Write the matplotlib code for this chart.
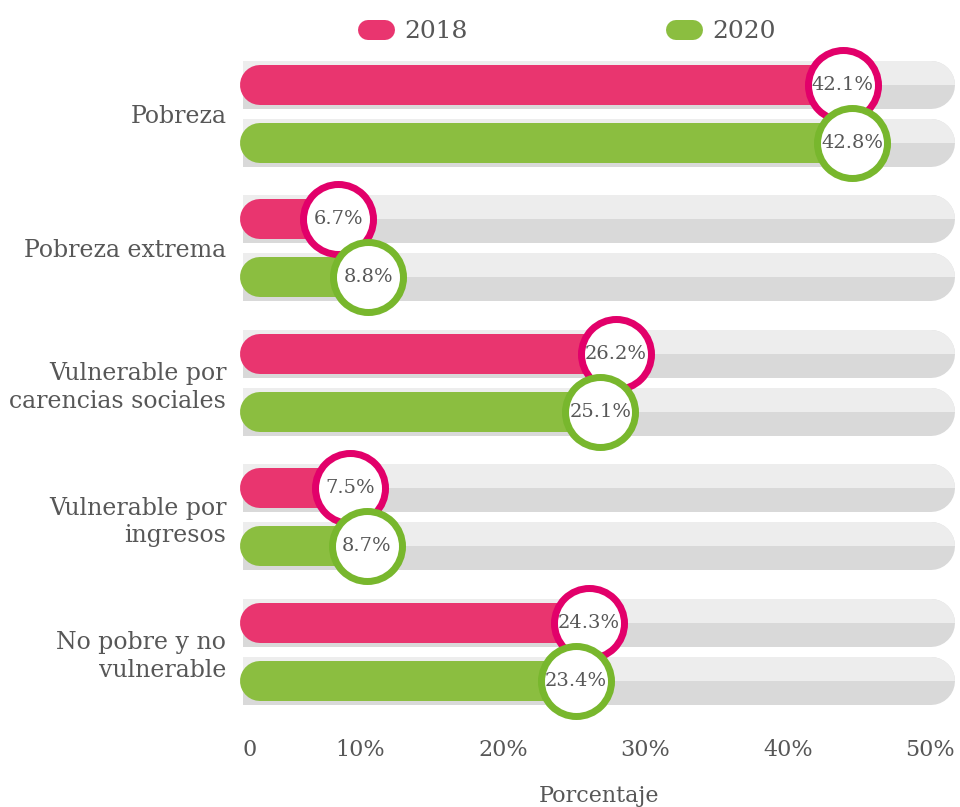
import numpy as np
import matplotlib
matplotlib.use("Agg")
import matplotlib.pyplot as plt
from matplotlib.lines import Line2D
from matplotlib.patches import Rectangle

# data
categorias = ["Pobreza", "Pobreza extrema", "Vulnerable por\ncarencias sociales",
              "Vulnerable por\ningresos", "No pobre y no\nvulnerable"]
v2018 = [42.1, 6.7, 26.2, 7.5, 24.3]
v2020 = [42.8, 8.8, 25.1, 8.7, 23.4]
ticks = [0, 10, 20, 30, 40, 50]
tick_labels = ["0", "10%", "20%", "30%", "40%", "50%"]

pink, pink_ring = "#E9356F", "#E2006A"
green, green_ring = "#8BBE40", "#78B72D"
track_light, track_dark = "#EDEDED", "#D9D9D9"
txt = "#575757"
plt.rcParams["font.family"] = ["DejaVu Serif"]

W, H, DPI = 960, 807, 100
fig = plt.figure(figsize=(W / DPI, H / DPI), dpi=DPI)
ax = fig.add_axes([243 / W, 87 / H, 712 / W, 680 / H])
ax.set_xlim(0, 50)
ax.set_ylim(4.506, -0.55)
px_x = 712 / 50.0     # pixels per percent
px_y = 134.5          # pixels per group
pt = 72.0 / DPI       # points per pixel

off = 29 / px_y
track_h, bar_h = 48, 40

for i in range(len(categorias)):
    for y, val, col, ring, z in [(i - off, v2018[i], pink, pink_ring, 5),
                                  (i + off, v2020[i], green, green_ring, 6)]:
        xe = 50 - (track_h / 2) / px_x
        ax.plot([0, xe], [y, y], color=track_dark, lw=track_h * pt,
                solid_capstyle="round", zorder=1)
        top = ax.plot([0, xe], [y, y], color=track_light, lw=track_h * pt,
                      solid_capstyle="round", zorder=2)[0]
        clip = Rectangle((0, y - (track_h / 2 + 2) / px_y), 50, (track_h / 2 + 2) / px_y,
                         transform=ax.transData)
        top.set_clip_path(clip)
        xs = (bar_h / 2 - 3) / px_x
        ax.plot([xs, val], [y, y], color=col, lw=bar_h * pt,
                solid_capstyle="round", zorder=3, clip_on=False)
        ax.scatter([val], [y], s=(70 * pt) ** 2, facecolor="white", edgecolor=ring,
                   linewidth=7 * pt, zorder=z, clip_on=False)
        ax.text(val, y, f"{val}%", ha="center", va="center", fontsize=14,
                color=txt, zorder=z + 0.5)

for s in ax.spines.values():
    s.set_visible(False)
ax.set_xticks(ticks)
ax.set_xticklabels(tick_labels, fontsize=16, color=txt)
for k, lab in enumerate(ax.get_xticklabels()):
    lab.set_ha("left" if k == 0 else "right")
ax.tick_params(axis="x", length=0, pad=14)
ax.set_yticks(range(len(categorias)))
ax.set_yticklabels(categorias, fontsize=17, color=txt, linespacing=1.25)
ax.tick_params(axis="y", length=0, pad=12)
ax.set_xlabel("Porcentaje", fontsize=16, color=txt, labelpad=17)

# legend
for x0, col, lab in [(358, pink, "2018"), (666, green, "2020")]:
    fig.add_artist(Line2D([(x0 + 10) / W, (x0 + 27) / W], [1 - 30 / H] * 2,
                          transform=fig.transFigure, color=col, lw=20 * pt,
                          solid_capstyle="round"))
    fig.text((x0 + 46) / W, 1 - 31 / H, lab, fontsize=18, color=txt,
             ha="left", va="center")

fig.savefig("out.png", dpi=DPI)
